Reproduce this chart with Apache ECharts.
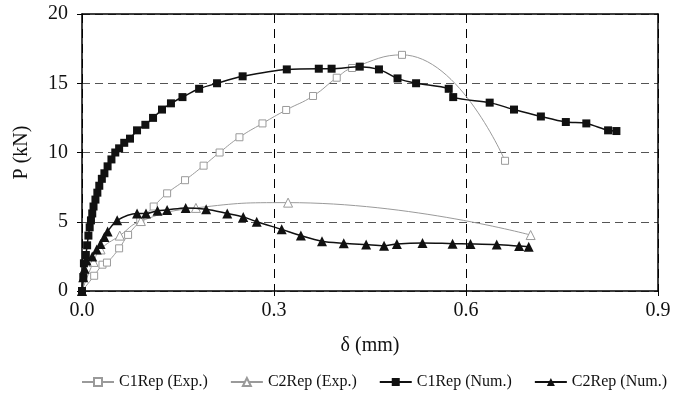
<!DOCTYPE html>
<html>
<head>
<meta charset="utf-8">
<script src="https://cdn.jsdelivr.net/npm/echarts@6/dist/echarts.min.js"></script>
<style>
  html, body { margin: 0; padding: 0; background: #fff; }
  #chart { width: 685px; height: 395px; }
</style>
</head>
<body>
<div id="chart"></div>
<script>
// Load–displacement curves, [δ (mm), P (kN)]
const c1Exp = [
  [0, 0], [0.019, 1.1], [0.032, 1.9], [0.039, 2.05], [0.058, 3.08], [0.072, 4.05],
  [0.091, 5.05], [0.112, 6.1], [0.133, 7.05], [0.161, 8.0], [0.190, 9.05],
  [0.215, 10.0], [0.246, 11.1], [0.282, 12.1], [0.319, 13.07], [0.361, 14.08],
  [0.398, 15.4], [0.422, 16.1], [0.500, 17.05], [0.661, 9.4]
];
const c2Exp = [
  [0, 0], [0.018, 2.1], [0.029, 3.0], [0.059, 4.0], [0.092, 5.05],
  [0.178, 6.0], [0.322, 6.38], [0.701, 4.04]
];
const c1Num = [
  [0, 0], [0.002, 1.0], [0.003, 2.0], [0.006, 2.6], [0.008, 3.3], [0.010, 4.0],
  [0.012, 4.6], [0.014, 5.1], [0.016, 5.6], [0.018, 6.1], [0.021, 6.6],
  [0.024, 7.1], [0.027, 7.6], [0.031, 8.1], [0.035, 8.5], [0.040, 9.0],
  [0.046, 9.5], [0.052, 10.0], [0.058, 10.3], [0.066, 10.7], [0.075, 11.0],
  [0.086, 11.6], [0.099, 12.0], [0.111, 12.5], [0.125, 13.1], [0.139, 13.55],
  [0.157, 14.0], [0.183, 14.6], [0.211, 15.0], [0.251, 15.5], [0.320, 16.0],
  [0.370, 16.05], [0.390, 16.05], [0.434, 16.2], [0.464, 16.0], [0.493, 15.35],
  [0.522, 15.0], [0.573, 14.6], [0.580, 14.0], [0.637, 13.6], [0.675, 13.1],
  [0.717, 12.6], [0.756, 12.2], [0.788, 12.1], [0.822, 11.6], [0.835, 11.55]
];
const c2Num = [
  [0, 0], [0.002, 1.0], [0.004, 1.6], [0.007, 2.2], [0.016, 2.5], [0.023, 3.0],
  [0.029, 3.4], [0.035, 3.9], [0.040, 4.3], [0.055, 5.1], [0.086, 5.6],
  [0.100, 5.6], [0.118, 5.8], [0.133, 5.85], [0.162, 6.0], [0.194, 5.9],
  [0.227, 5.6], [0.252, 5.35], [0.273, 5.0], [0.312, 4.45], [0.342, 4.0],
  [0.375, 3.6], [0.409, 3.45], [0.444, 3.35], [0.472, 3.27], [0.492, 3.4],
  [0.532, 3.47], [0.579, 3.42], [0.607, 3.4], [0.648, 3.35], [0.683, 3.25],
  [0.698, 3.2]
];
const seriesNames = ['C1Rep (Exp.)', 'C2Rep (Exp.)', 'C1Rep (Num.)', 'C2Rep (Num.)'];
const xTicks = { min: 0, max: 0.9, step: 0.3 };
const yTicks = { min: 0, max: 20, step: 5 };

const FONT = 'Liberation Serif';
const GREY = '#9a9a9a';
const BLACK = '#111';

const chart = echarts.init(document.getElementById('chart'), null, { renderer: 'canvas' });

function expSeries(name, data, symbol, size) {
  return {
    name, type: 'line', data, smooth: 0.5,
    symbol, symbolSize: size,
    lineStyle: { color: GREY, width: 1 },
    itemStyle: { color: '#fff', borderColor: GREY, borderWidth: 1 },
    emphasis: { disabled: true }, z: 3
  };
}
function numSeries(name, data, symbol, size) {
  return {
    name, type: 'line', data, smooth: 0.3,
    symbol, symbolSize: size,
    lineStyle: { color: BLACK, width: 1.5 },
    itemStyle: { color: BLACK, borderColor: BLACK, borderWidth: 0 },
    emphasis: { disabled: true }, z: 4
  };
}

chart.setOption({
  animation: false,
  backgroundColor: '#fff',
  grid: { left: 82, right: 27, top: 14, bottom: 104, containLabel: false },
  legend: {
    left: 76, top: 369,
    itemWidth: 32, itemHeight: 10, itemGap: 22,
    textStyle: { fontFamily: FONT, fontSize: 16, color: '#111' },
    data: seriesNames
  },
  xAxis: [{
    type: 'value', min: xTicks.min, max: xTicks.max, interval: xTicks.step,
    name: 'δ (mm)', nameLocation: 'middle', nameGap: 45,
    nameTextStyle: { fontFamily: FONT, fontSize: 20, color: '#111' },
    axisLine: { lineStyle: { color: '#000', width: 1.5 } },
    axisTick: { show: true, inside: false, length: 5, lineStyle: { color: '#000' } },
    axisLabel: { fontFamily: FONT, fontSize: 20, color: '#111', margin: 10,
      formatter: v => v.toFixed(1) },
    splitLine: { show: true, lineStyle: { color: '#000', type: [9, 6], width: 1 } }
  }, {
    type: 'value', position: 'top', min: xTicks.min, max: xTicks.max, z: 6,
    axisLine: { show: true, onZero: false, lineStyle: { color: '#000', width: 1.5 } },
    axisTick: { show: false }, axisLabel: { show: false }, splitLine: { show: false }
  }],
  yAxis: [{
    type: 'value', min: yTicks.min, max: yTicks.max, interval: yTicks.step,
    name: 'P (kN)', nameLocation: 'middle', nameGap: 50,
    nameTextStyle: { fontFamily: FONT, fontSize: 20, color: '#111' },
    axisLine: { show: true, lineStyle: { color: '#000', width: 1.5 } },
    axisTick: { show: true, inside: false, length: 5, lineStyle: { color: '#000' } },
    axisLabel: { fontFamily: FONT, fontSize: 20, color: '#111', margin: 14 },
    splitLine: { show: true, lineStyle: { color: '#555', type: [8, 5], width: 1 } }
  }, {
    type: 'value', position: 'right', min: yTicks.min, max: yTicks.max, z: 6,
    axisLine: { show: true, onZero: false, lineStyle: { color: '#000', width: 1.5 } },
    axisTick: { show: false }, axisLabel: { show: false }, splitLine: { show: false }
  }],
  series: [
    expSeries(seriesNames[0], c1Exp, 'rect', 7),
    expSeries(seriesNames[1], c2Exp, 'triangle', 9),
    numSeries(seriesNames[2], c1Num, 'rect', 8),
    numSeries(seriesNames[3], c2Num, 'triangle', 10)
  ]
});
</script>
</body>
</html>
